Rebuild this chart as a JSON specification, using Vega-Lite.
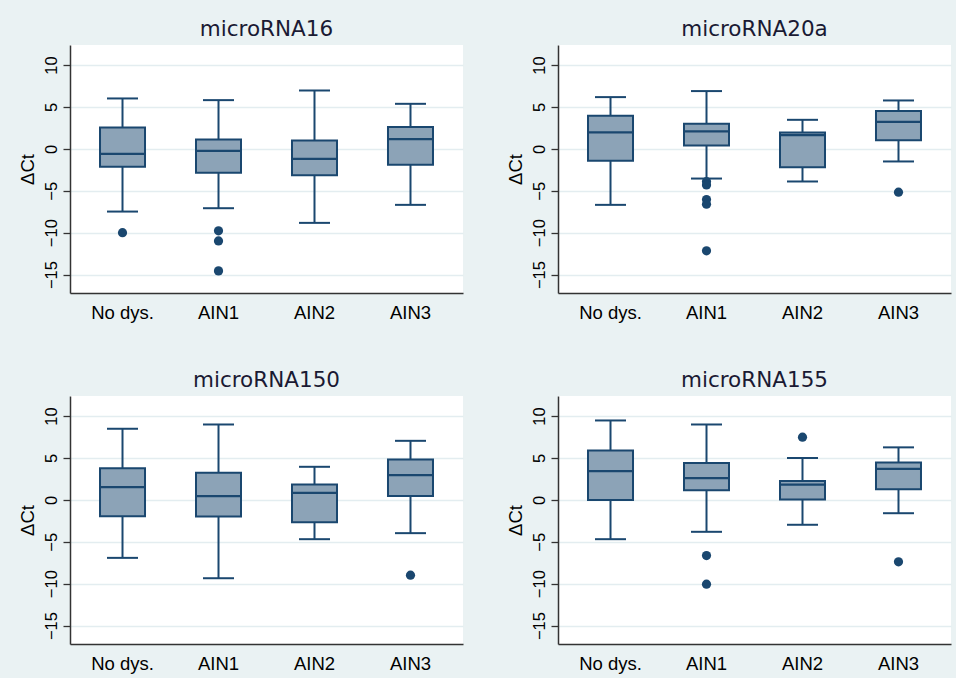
{
  "$schema": "https://vega.github.io/schema/vega-lite/v6.json",
  "background": "#EAF2F3",
  "padding": {"left": 18, "top": 18, "right": 5, "bottom": 5},
  "data": {"values": [
    {"gene": "microRNA16", "group": "No dys.", "lo": -7.48, "q1": -2.14, "med": -0.59, "q3": 2.56, "hi": 6.02},
    {"gene": "microRNA16", "group": "AIN1", "lo": -7.08, "q1": -2.86, "med": -0.23, "q3": 1.12, "hi": 5.82},
    {"gene": "microRNA16", "group": "AIN2", "lo": -8.83, "q1": -3.14, "med": -1.18, "q3": 1.0, "hi": 6.97},
    {"gene": "microRNA16", "group": "AIN3", "lo": -6.68, "q1": -1.9, "med": 1.16, "q3": 2.6, "hi": 5.38},
    {"gene": "microRNA16", "group": "No dys.", "out": -10.0},
    {"gene": "microRNA16", "group": "AIN1", "out": -9.78},
    {"gene": "microRNA16", "group": "AIN1", "out": -10.98},
    {"gene": "microRNA16", "group": "AIN1", "out": -14.56},
    {"gene": "microRNA20a", "group": "No dys.", "lo": -6.68, "q1": -1.43, "med": 1.96, "q3": 3.95, "hi": 6.18},
    {"gene": "microRNA20a", "group": "AIN1", "lo": -3.54, "q1": 0.41, "med": 2.08, "q3": 2.99, "hi": 6.9},
    {"gene": "microRNA20a", "group": "AIN2", "lo": -3.89, "q1": -2.18, "med": 1.64, "q3": 1.96, "hi": 3.47},
    {"gene": "microRNA20a", "group": "AIN3", "lo": -1.5, "q1": 1.04, "med": 3.23, "q3": 4.51, "hi": 5.78},
    {"gene": "microRNA20a", "group": "AIN1", "out": -3.9},
    {"gene": "microRNA20a", "group": "AIN1", "out": -4.3},
    {"gene": "microRNA20a", "group": "AIN1", "out": -6.04},
    {"gene": "microRNA20a", "group": "AIN1", "out": -6.6},
    {"gene": "microRNA20a", "group": "AIN1", "out": -12.17},
    {"gene": "microRNA20a", "group": "AIN3", "out": -5.17},
    {"gene": "microRNA150", "group": "No dys.", "lo": -6.92, "q1": -1.94, "med": 1.52, "q3": 3.79, "hi": 8.49},
    {"gene": "microRNA150", "group": "AIN1", "lo": -9.35, "q1": -1.98, "med": 0.45, "q3": 3.23, "hi": 9.0},
    {"gene": "microRNA150", "group": "AIN2", "lo": -4.69, "q1": -2.66, "med": 0.84, "q3": 1.84, "hi": 3.95},
    {"gene": "microRNA150", "group": "AIN3", "lo": -3.97, "q1": 0.45, "med": 2.95, "q3": 4.82, "hi": 7.05},
    {"gene": "microRNA150", "group": "AIN3", "out": -8.99},
    {"gene": "microRNA155", "group": "No dys.", "lo": -4.69, "q1": 0.0, "med": 3.43, "q3": 5.9, "hi": 9.48},
    {"gene": "microRNA155", "group": "AIN1", "lo": -3.81, "q1": 1.16, "med": 2.6, "q3": 4.39, "hi": 9.0},
    {"gene": "microRNA155", "group": "AIN2", "lo": -2.97, "q1": 0.06, "med": 1.82, "q3": 2.25, "hi": 5.0},
    {"gene": "microRNA155", "group": "AIN3", "lo": -1.59, "q1": 1.27, "med": 3.71, "q3": 4.47, "hi": 6.27},
    {"gene": "microRNA155", "group": "AIN1", "out": -6.64},
    {"gene": "microRNA155", "group": "AIN1", "out": -10.06},
    {"gene": "microRNA155", "group": "AIN2", "out": 7.49},
    {"gene": "microRNA155", "group": "AIN3", "out": -7.39}
  ]},
  "facet": {
    "field": "gene", "type": "nominal",
    "sort": ["microRNA16", "microRNA20a", "microRNA150", "microRNA155"],
    "header": {"title": null, "labelFontSize": 21.5, "labelFont": "DejaVu Sans", "labelColor": "#1a1a33", "labelPadding": 5}
  },
  "columns": 2,
  "spacing": {"column": 43, "row": 47},
  "resolve": {"axis": {"x": "independent", "y": "independent"}},
  "spec": {
    "width": 393,
    "height": 248,
    "encoding": {
      "x": {
        "field": "group", "type": "ordinal",
        "sort": ["No dys.", "AIN1", "AIN2", "AIN3"],
        "scale": {"paddingInner": 0.5, "paddingOuter": 0.297},
        "axis": {"title": null, "ticks": false, "labelAngle": 0, "labelFontSize": 18.5, "labelFont": "Liberation Sans", "labelColor": "#000000", "labelPadding": 10, "domainColor": "#333333", "domainWidth": 1.5, "grid": false}
      }
    },
    "layer": [
      {
        "transform": [{"filter": "isValid(datum.lo)"}],
        "mark": {"type": "rule", "color": "#1A476F", "strokeWidth": 2},
        "encoding": {
          "y": {"field": "lo", "type": "quantitative", "scale": {"domain": [-17.2, 12.4], "nice": false, "zero": false},
            "axis": {"title": "ΔCt", "values": [-15, -10, -5, 0, 5, 10], "labelAngle": 270, "labelFontSize": 16.5, "labelFont": "Liberation Sans", "labelColor": "#000000", "labelPadding": 4, "tickSize": 7, "tickColor": "#333333", "tickWidth": 1.3, "domainColor": "#333333", "domainWidth": 1.5, "gridColor": "#E3EDF0", "gridWidth": 1.3, "titleFontSize": 18.5, "titleFont": "Liberation Sans", "titleFontWeight": "normal", "titleColor": "#000000", "titlePadding": 6}},
          "y2": {"field": "hi"}
        }
      },
      {
        "transform": [{"filter": "isValid(datum.lo)"}],
        "mark": {"type": "bar", "width": 45, "fill": "#8CA3B7", "stroke": "#1A476F", "strokeWidth": 2},
        "encoding": {
          "y": {"field": "q1", "type": "quantitative"},
          "y2": {"field": "q3"}
        }
      },
      {
        "transform": [{"filter": "isValid(datum.lo)"}],
        "mark": {"type": "tick", "color": "#1A476F", "thickness": 2.2, "size": 45, "opacity": 1},
        "encoding": {"y": {"field": "med", "type": "quantitative"}}
      },
      {
        "transform": [{"filter": "isValid(datum.lo)"}],
        "mark": {"type": "tick", "color": "#1A476F", "thickness": 2, "size": 31, "opacity": 1},
        "encoding": {"y": {"field": "lo", "type": "quantitative"}}
      },
      {
        "transform": [{"filter": "isValid(datum.lo)"}],
        "mark": {"type": "tick", "color": "#1A476F", "thickness": 2, "size": 31, "opacity": 1},
        "encoding": {"y": {"field": "hi", "type": "quantitative"}}
      },
      {
        "transform": [{"filter": "isValid(datum.out)"}],
        "mark": {"type": "point", "filled": true, "shape": "circle", "size": 85, "color": "#1A476F", "opacity": 1},
        "encoding": {"y": {"field": "out", "type": "quantitative"}}
      }
    ]
  },
  "config": {
    "view": {"fill": "#FFFFFF", "stroke": null},
    "axis": {"gridColor": "#E3EDF0"}
  }
}
